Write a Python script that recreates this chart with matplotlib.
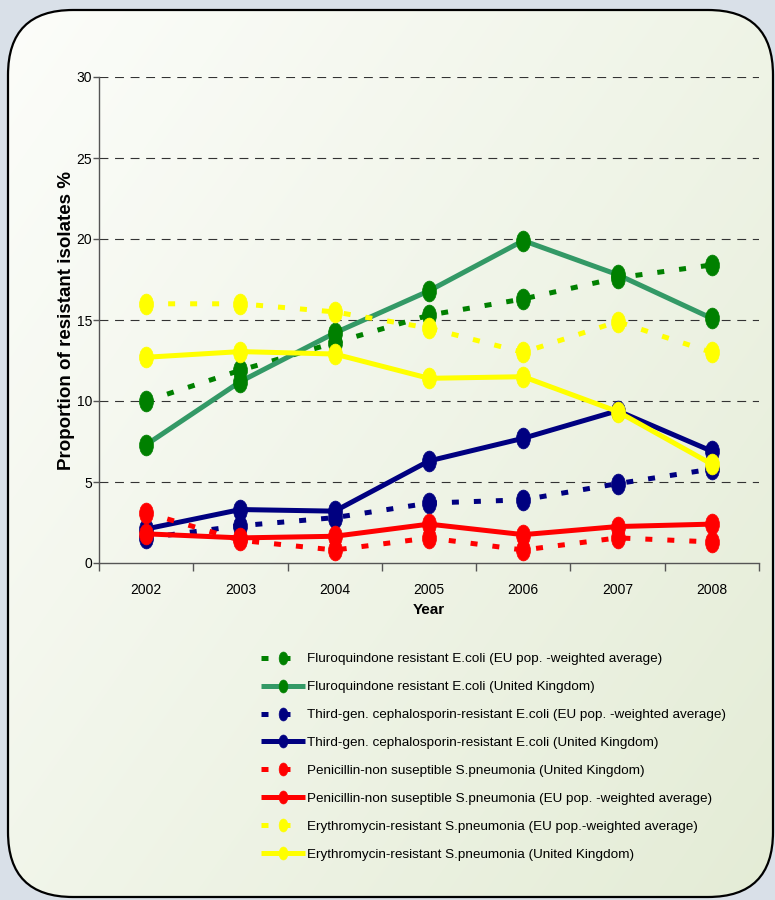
import numpy as np
import matplotlib
matplotlib.use("Agg")
import matplotlib.pyplot as plt
from matplotlib.path import Path
from matplotlib.patches import FancyBboxPatch

# ---------------- data ----------------
years = ["2002", "2003", "2004", "2005", "2006", "2007", "2008"]
fq_eu = [10.0, 11.9, 13.6, 15.3, 16.3, 17.6, 18.4]
fq_uk = [7.3, 11.2, 14.2, 16.8, 19.9, 17.8, 15.1]
cep_eu = [1.55, 2.3, 2.8, 3.7, 3.9, 4.9, 5.8]
cep_uk = [2.1, 3.3, 3.2, 6.3, 7.7, 9.4, 6.9]
pen_uk = [3.1, 1.4, 0.8, 1.55, 0.8, 1.55, 1.3]
pen_eu = [1.8, 1.55, 1.65, 2.4, 1.75, 2.25, 2.4]
ery_eu = [16.0, 16.0, 15.5, 14.5, 13.0, 14.9, 13.0]
ery_uk = [12.7, 13.05, 12.9, 11.4, 11.5, 9.35, 6.1]

labels = [
    "Fluroquindone resistant E.coli (EU pop. -weighted average)",
    "Fluroquindone resistant E.coli (United Kingdom)",
    "Third-gen. cephalosporin-resistant E.coli (EU pop. -weighted average)",
    "Third-gen. cephalosporin-resistant E.coli (United Kingdom)",
    "Penicillin-non suseptible S.pneumonia (United Kingdom)",
    "Penicillin-non suseptible S.pneumonia (EU pop. -weighted average)",
    "Erythromycin-resistant S.pneumonia (EU pop.-weighted average)",
    "Erythromycin-resistant S.pneumonia (United Kingdom)",
]
yticks = [0, 5, 10, 15, 20, 25, 30]

FONT = ["Liberation Sans", "DejaVu Sans"]

W, H = 775, 900
fig = plt.figure(figsize=(W / 100, H / 100), dpi=100)
fig.patch.set_facecolor("#d9e0e8")

# ---------------- background panel ----------------
bg = fig.add_axes([0, 0, 1, 1], zorder=-10)
bg.set_xlim(0, W)
bg.set_ylim(H, 0)
bg.axis("off")
px0, px1, py0, py1 = 8, 773, 10, 897
panel = FancyBboxPatch((px0, py0), px1 - px0, py1 - py0,
                       boxstyle="round,pad=0,rounding_size=65",
                       facecolor="none", edgecolor="black", linewidth=1.6,
                       zorder=3)
bg.add_patch(panel)
gw, gh = 200, 230
gx, gy = np.meshgrid(np.linspace(0, 1, gw), np.linspace(0, 1, gh))
t = (gx * 0.55 + gy * 0.45)
c0 = np.array([0xfc, 0xfd, 0xfa]) / 255.0
c1 = np.array([0xe4, 0xec, 0xd6]) / 255.0
img = c0[None, None, :] * (1 - t[..., None]) + c1[None, None, :] * t[..., None]
im = bg.imshow(img, extent=[px0, px1, py1, py0], origin="upper",
               aspect="auto", zorder=1, interpolation="bilinear")
clip = FancyBboxPatch((px0, py0), px1 - px0, py1 - py0,
                      boxstyle="round,pad=0,rounding_size=65",
                      facecolor="none", edgecolor="none",
                      transform=bg.transData)
bg.add_patch(clip)
im.set_clip_path(clip)

# ---------------- main axes ----------------
ax = fig.add_axes([99 / W, 1 - 563 / H, (759 - 99) / W, (563 - 77) / H])
ax.set_facecolor("none")

circ = Path.unit_circle()
ellipse = Path(circ.vertices * np.array([0.67, 1.0]), circ.codes)

x = np.arange(len(years))
DASH = (0, (1.4, 3.0))
series = [
    (fq_eu, "#008000", "#008000", DASH),
    (fq_uk, "#339966", "#008000", "-"),
    (cep_eu, "#000080", "#000080", DASH),
    (cep_uk, "#000080", "#000080", "-"),
    (pen_uk, "#ff0000", "#ff0000", DASH),
    (pen_eu, "#ff0000", "#ff0000", "-"),
    (ery_eu, "#ffff00", "#ffff00", DASH),
    (ery_uk, "#ffff00", "#ffff00", "-"),
]
handles = []
for (vals, lc, mc, ls), lab in zip(series, labels):
    ln, = ax.plot(x, vals, color=lc, linestyle=ls, linewidth=3.6,
                  dash_capstyle="butt", solid_capstyle="butt",
                  marker=ellipse, markersize=15, markerfacecolor=mc,
                  markeredgecolor=mc, markeredgewidth=0.5, label=lab,
                  clip_on=False)
    handles.append(ln)

ax.set_xlim(-0.5, len(years) - 0.5)
ax.set_ylim(0, 30)
ax.set_yticks(yticks)
ax.set_yticklabels([str(v) for v in yticks], fontfamily=FONT, fontsize=10)
ax.tick_params(axis="y", direction="out", length=4, width=1,
               color="#555555", pad=1)

ax.set_xticks(np.arange(-0.5, len(years), 1.0))
ax.set_xticklabels([])
ax.tick_params(axis="x", which="major", direction="out", length=6, width=1,
               color="#555555")
ax.set_xticks(x, minor=True)
ax.set_xticklabels(years, minor=True, fontfamily=FONT, fontsize=10)
ax.tick_params(axis="x", which="minor", length=0, pad=14.5)

for sp in ["top", "right"]:
    ax.spines[sp].set_visible(False)
for sp in ["left", "bottom"]:
    ax.spines[sp].set_color("#555555")
    ax.spines[sp].set_linewidth(1.0)

for v in yticks[1:]:
    ax.axhline(v, color="#333333", linewidth=0.8,
               linestyle=(0, (8.0, 6.0)), zorder=0.5)

ax.set_ylabel("Proportion of resistant isolates %", fontfamily=FONT,
              fontweight="bold", fontsize=13.5, labelpad=1.0)
ax.set_xlabel("Year", fontfamily=FONT, fontweight="bold", fontsize=11,
              labelpad=4)

leg = fig.legend(handles=handles, labels=labels, loc="upper left",
                 bbox_to_anchor=(261 / W, 1 - 653 / H), frameon=False,
                 prop={"family": FONT, "size": 9.7},
                 handlelength=3.26, handletextpad=0.15, labelspacing=1.15,
                 markerscale=0.62, borderpad=0, borderaxespad=0)

fig.savefig("out.png", dpi=100, facecolor=fig.get_facecolor())
